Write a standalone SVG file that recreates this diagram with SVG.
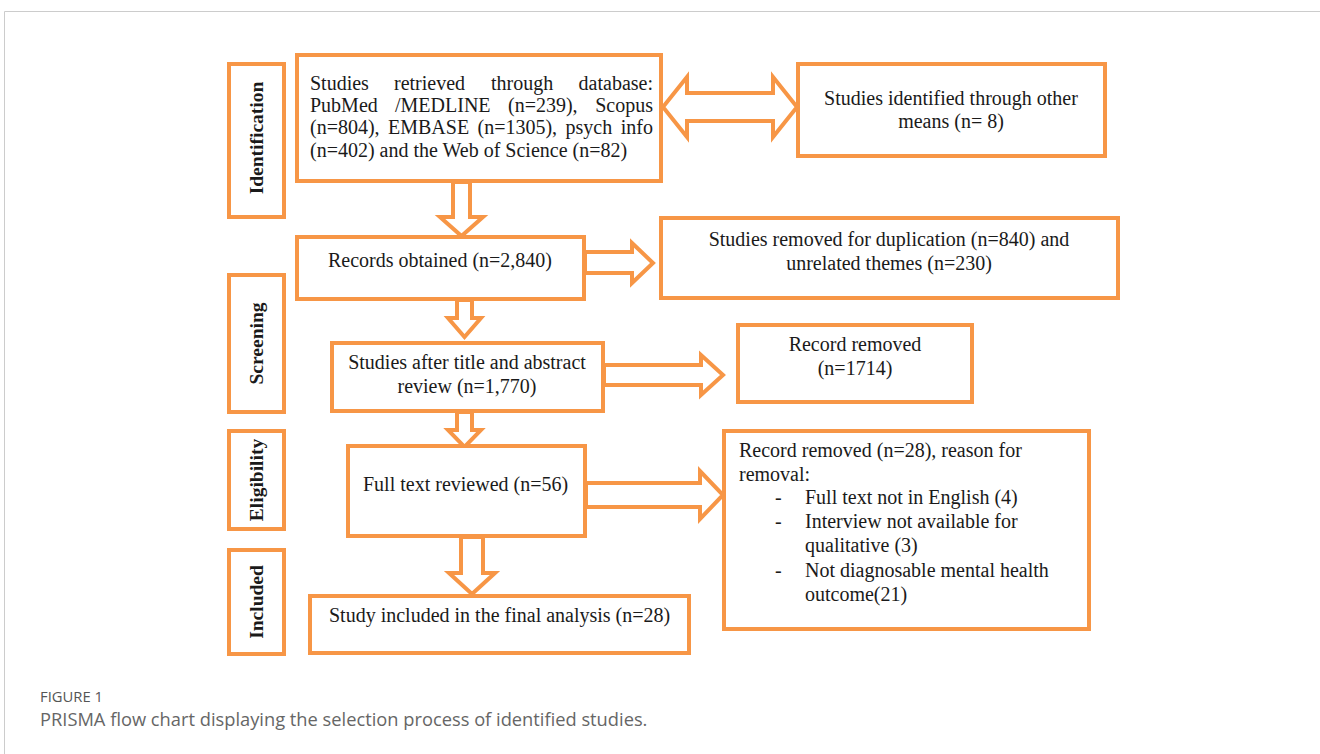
<svg xmlns="http://www.w3.org/2000/svg" width="1320" height="754" viewBox="0 0 1320 754">
<style>
.box{fill:#fff;stroke:#F79646;stroke-width:4}
.arr{fill:#fff;stroke:#F79646;stroke-width:4;stroke-linejoin:miter}
.t{font-family:"Liberation Serif","Times New Roman",serif;font-size:20px;fill:#1a1a1a}
.c{text-anchor:middle}
.e{text-anchor:end}
.stage{font-family:"Liberation Serif","Times New Roman",serif;font-size:19.5px;font-weight:bold;fill:#1a1a1a;text-anchor:middle}
.cap1{font-family:"Open Sans","Noto Sans",sans-serif;font-size:14.8px;fill:#555}
.cap2{font-family:"Open Sans","Noto Sans",sans-serif;font-size:18.3px;fill:#666}
</style>
<rect width="1320" height="754" fill="#fff"/>
<path d="M4.5 754 V11.5 H1320" fill="none" stroke="#cccccc" stroke-width="1"/>

<g id="connectors">
<polygon class="arr" points="663,107 687,77 687,93 773,93 773,77 797,107 773,137 773,121 687,121 687,137"/>
<polygon class="arr" points="453,182 470,182 470,217 483,217 461.5,236 440,217 453,217"/>
<polygon class="arr" points="585,252 632,252 632,243 653,263 632,283 632,273 585,273"/>
<polygon class="arr" points="457,300 472,300 472,318 481,318 464.5,337 448,318 457,318"/>
<polygon class="arr" points="604,365 701,365 701,355 723,375 701,395 701,385 604,385"/>
<polygon class="arr" points="457,412 472,412 472,430 481,430 464.5,447 448,430 457,430"/>
<polygon class="arr" points="586,483 700,483 700,471 723,495 700,519 700,507 586,507"/>
<polygon class="arr" points="461,537 483,537 483,573 495,573 472,594 449,573 461,573"/>
</g>

<g id="stage-identification">
<rect class="box" x="229" y="64" width="55" height="153"/>
<text class="stage" transform="translate(263,138) rotate(-90)">Identification</text>
</g>
<g id="stage-screening">
<rect class="box" x="229" y="275" width="55" height="137"/>
<text class="stage" transform="translate(263,343.5) rotate(-90)">Screening</text>
</g>
<g id="stage-eligibility">
<rect class="box" x="229" y="431" width="55" height="98"/>
<text class="stage" transform="translate(263,480) rotate(-90)">Eligibility</text>
</g>
<g id="stage-included">
<rect class="box" x="229" y="550" width="55" height="104"/>
<text class="stage" transform="translate(263,602) rotate(-90)">Included</text>
</g>

<g id="node-database">
<rect class="box" x="297" y="55" width="364" height="126"/>
<text class="t" x="310" y="90">Studies</text>
<text class="t" x="394" y="90">retrieved</text>
<text class="t" x="491" y="90">through</text>
<text class="t e" x="653" y="90">database:</text>
<text class="t" x="310" y="112">PubMed</text>
<text class="t" x="395" y="112">/MEDLINE</text>
<text class="t" x="508" y="112">(n=239),</text>
<text class="t e" x="653" y="112">Scopus</text>
<text class="t" x="310" y="134">(n=804),</text>
<text class="t" x="388" y="134">EMBASE</text>
<text class="t" x="477.5" y="134">(n=1305),</text>
<text class="t" x="565.5" y="134">psych</text>
<text class="t e" x="653" y="134">info</text>
<text class="t" x="310" y="157">(n=402) and the Web of Science (n=82)</text>
</g>

<g id="node-other">
<rect class="box" x="798" y="64" width="307" height="92"/>
<text class="t c" x="951" y="105">Studies identified through other</text>
<text class="t c" x="951" y="128">means (n= 8)</text>
</g>

<g id="node-records">
<rect class="box" x="297" y="237" width="287" height="62"/>
<text class="t c" x="440" y="267">Records obtained (n=2,840)</text>
</g>

<g id="node-duplication">
<rect class="box" x="661" y="218" width="457" height="80"/>
<text class="t c" x="889" y="246">Studies removed for duplication (n=840) and</text>
<text class="t c" x="889" y="270">unrelated themes (n=230)</text>
</g>

<g id="node-title-abstract">
<rect class="box" x="332" y="343" width="271" height="68"/>
<text class="t c" x="467" y="369">Studies after title and abstract</text>
<text class="t c" x="467" y="393">review (n=1,770)</text>
</g>

<g id="node-removed-1714">
<rect class="box" x="738" y="325" width="234" height="77"/>
<text class="t c" x="855" y="351">Record removed</text>
<text class="t c" x="855" y="375">(n=1714)</text>
</g>

<g id="node-fulltext">
<rect class="box" x="348" y="446" width="237" height="90"/>
<text class="t" x="363" y="491">Full text reviewed (n=56)</text>
</g>

<g id="node-removed-28">
<rect class="box" x="724" y="431" width="365" height="198"/>
<text class="t" x="739" y="457">Record removed (n=28), reason for</text>
<text class="t" x="739" y="481">removal:</text>
<text class="t" x="775" y="504">-</text>
<text class="t" x="805" y="504">Full text not in English (4)</text>
<text class="t" x="775" y="528">-</text>
<text class="t" x="805" y="528">Interview not available for</text>
<text class="t" x="805" y="552">qualitative (3)</text>
<text class="t" x="775" y="577">-</text>
<text class="t" x="805" y="577">Not diagnosable mental health</text>
<text class="t" x="805" y="601">outcome(21)</text>
</g>

<g id="node-included">
<rect class="box" x="310" y="596" width="379" height="57"/>
<text class="t" x="329" y="622">Study included in the final analysis (n=28)</text>
</g>

<g id="caption">
<text class="cap1" x="40" y="702">FIGURE 1</text>
<text class="cap2" x="40" y="726">PRISMA flow chart displaying the selection process of identified studies.</text>
</g>
</svg>
